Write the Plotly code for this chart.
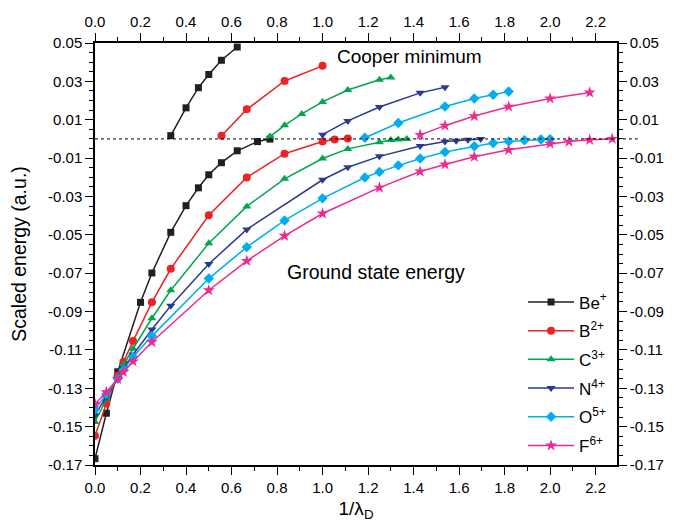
import plotly.graph_objects as go

# ---------------- data ----------------
species = ["Be<sup>+</sup>", "B<sup>2+</sup>", "C<sup>3+</sup>", "N<sup>4+</sup>", "O<sup>5+</sup>", "F<sup>6+</sup>"]
colors = ["#231F20", "#EC2227", "#00A650", "#2B3990", "#00AEEF", "#EC2A8F"]
symbols = ["square", "circle", "triangle-up", "triangle-down", "diamond", "star"]
marker_sizes = [7, 8, 8, 8, 8, 9]

# ground state energy branches
be_gx = [0, 0.05, 0.1, 0.2, 0.25, 0.333, 0.4, 0.4545, 0.5, 0.5556, 0.625, 0.714, 0.769]
be_gy = [-0.1667, -0.143, -0.1214, -0.0852, -0.0699, -0.0487, -0.0348, -0.0255, -0.0187, -0.0124, -0.0062, -0.0014, -0.0001]
b_gx = [0, 0.05, 0.1, 0.125, 0.167, 0.25, 0.333, 0.5, 0.667, 0.833, 1.0, 1.053, 1.111]
b_gy = [-0.1547, -0.138, -0.1235, -0.1163, -0.1054, -0.0852, -0.0677, -0.0398, -0.0201, -0.0077, -0.0014, -0.0003, 0.0002]
c_gx = [0, 0.05, 0.1, 0.125, 0.167, 0.25, 0.333, 0.5, 0.667, 0.833, 1.0, 1.111, 1.25, 1.3, 1.333, 1.37]
c_gy = [-0.1476, -0.1355, -0.124, -0.1177, -0.1094, -0.0935, -0.0789, -0.0544, -0.0352, -0.0208, -0.0102, -0.0052, -0.0017, -0.0006, -0.0003, -0.0001]
n_gx = [0, 0.05, 0.1, 0.125, 0.167, 0.25, 0.333, 0.5, 0.667, 1.0, 1.111, 1.25, 1.429, 1.538, 1.587, 1.639, 1.695]
n_gy = [-0.1440, -0.1345, -0.1245, -0.1195, -0.1125, -0.0994, -0.087, -0.0652, -0.0472, -0.0213, -0.0148, -0.0091, -0.0037, -0.0014, -0.0009, -0.0005, 0.0]
o_gx = [0, 0.05, 0.1, 0.125, 0.167, 0.25, 0.5, 0.667, 0.833, 1.0, 1.186, 1.25, 1.333, 1.429, 1.538, 1.667, 1.75, 1.818, 1.887, 1.96, 2.0]
o_gy = [-0.1411, -0.133, -0.125, -0.1205, -0.1137, -0.1028, -0.0728, -0.0564, -0.0425, -0.031, -0.0201, -0.0172, -0.0138, -0.0102, -0.0068, -0.0038, -0.0021, -0.0013, -0.0007, -0.0003, -0.0001]
f_gx = [0, 0.05, 0.1, 0.125, 0.167, 0.25, 0.5, 0.667, 0.833, 1.0, 1.25, 1.429, 1.538, 1.667, 1.818, 2.0, 2.083, 2.174, 2.273]
f_gy = [-0.1382, -0.132, -0.1252, -0.1215, -0.116, -0.1059, -0.0789, -0.0636, -0.0505, -0.0389, -0.0254, -0.017, -0.0133, -0.0093, -0.0057, -0.0025, -0.0014, -0.0005, 0.0]

# Cooper minimum branches
be_cx = [0.333, 0.4, 0.4545, 0.5, 0.5556, 0.625]
be_cy = [0.0017, 0.0162, 0.0267, 0.0336, 0.041, 0.0479]
b_cx = [0.556, 0.667, 0.833, 1.0]
b_cy = [0.0016, 0.0154, 0.0302, 0.0381]
c_cx = [0.769, 0.833, 0.909, 1.0, 1.111, 1.25, 1.3]
c_cy = [0.0012, 0.0071, 0.013, 0.0193, 0.0255, 0.0308, 0.032]
n_cx = [1.0, 1.111, 1.25, 1.429, 1.538]
n_cy = [0.0022, 0.0094, 0.0166, 0.024, 0.0269]
o_cx = [1.186, 1.333, 1.538, 1.667, 1.75, 1.818]
o_cy = [0.0006, 0.0083, 0.0169, 0.0211, 0.023, 0.0247]
f_cx = [1.429, 1.538, 1.667, 1.818, 2.0, 2.174]
f_cy = [0.0021, 0.0069, 0.0119, 0.0168, 0.0211, 0.0242]

ground = [(be_gx, be_gy), (b_gx, b_gy), (c_gx, c_gy), (n_gx, n_gy), (o_gx, o_gy), (f_gx, f_gy)]
cooper = [(be_cx, be_cy), (b_cx, b_cy), (c_cx, c_cy), (n_cx, n_cy), (o_cx, o_cy), (f_cx, f_cy)]

x_ticks = [0.0, 0.2, 0.4, 0.6, 0.8, 1.0, 1.2, 1.4, 1.6, 1.8, 2.0, 2.2]
x_ticktext = ["0.0", "0.2", "0.4", "0.6", "0.8", "1.0", "1.2", "1.4", "1.6", "1.8", "2.0", "2.2"]
y_ticks = [0.05, 0.03, 0.01, -0.01, -0.03, -0.05, -0.07, -0.09, -0.11, -0.13, -0.15, -0.17]
y_ticktext = ["0.05", "0.03", "0.01", "-0.01", "-0.03", "-0.05", "-0.07", "-0.09", "-0.11", "-0.13", "-0.15", "-0.17"]
x_minor = [round(0.1 * i, 2) for i in range(0, 23)]
y_minor = [round(-0.17 + 0.005 * i, 3) for i in range(0, 45)]

X_RANGE = [0, 2.294]
Y_RANGE = [-0.17, 0.05]

FONT = "Liberation Sans, Arial, sans-serif"

fig = go.Figure()
for i in range(6):
    gx, gy = ground[i]
    cx, cy = cooper[i]
    fig.add_trace(go.Scatter(
        x=gx, y=gy, mode="lines+markers", name=species[i], legendgroup=species[i],
        line=dict(color=colors[i], width=1.5),
        marker=dict(symbol=symbols[i], size=marker_sizes[i], color=colors[i])))
    fig.add_trace(go.Scatter(
        x=cx, y=cy, mode="lines+markers", name=species[i], legendgroup=species[i], showlegend=False,
        line=dict(color=colors[i], width=1.5),
        marker=dict(symbol=symbols[i], size=marker_sizes[i], color=colors[i])))

# dummy trace for the mirrored axes
fig.add_trace(go.Scatter(x=[], y=[], xaxis="x2", yaxis="y2", showlegend=False, hoverinfo="skip"))

axis_common = dict(showline=True, linecolor="black", linewidth=1.5, ticks="outside",
                   ticklen=8, tickwidth=1.2, tickcolor="black", showgrid=False, zeroline=False,
                   tickfont=dict(family=FONT, size=15, color="black"), mirror=False)
minor_common = dict(ticklen=4, ticks="outside", tickcolor="black", tickwidth=1.2)

fig.update_layout(
    width=688, height=528,
    margin=dict(l=95, r=71, t=43, b=59),
    paper_bgcolor="white", plot_bgcolor="white",
    font=dict(family=FONT, color="black"),
    xaxis=dict(range=X_RANGE, tickmode="array", tickvals=x_ticks, ticktext=x_ticktext,
               minor=dict(tickvals=x_minor, **minor_common),
               title=dict(text="1/λ<sub>D</sub>", font=dict(family=FONT, size=19), standoff=7),
               **axis_common),
    yaxis=dict(range=Y_RANGE, tickmode="array", tickvals=y_ticks, ticktext=y_ticktext,
               minor=dict(tickvals=y_minor, **minor_common),
               title=dict(text="Scaled energy (a.u.)", font=dict(family=FONT, size=19.5), standoff=16),
               **axis_common),
    xaxis2=dict(range=X_RANGE, overlaying="x", side="top", anchor="y", tickmode="array",
                tickvals=x_ticks, ticktext=x_ticktext,
                minor=dict(tickvals=x_minor, **minor_common),
                **axis_common),
    yaxis2=dict(range=Y_RANGE, overlaying="y", side="right", anchor="x", tickmode="array",
                tickvals=y_ticks, ticktext=y_ticktext,
                minor=dict(tickvals=y_minor, **minor_common),
                **axis_common),
    legend=dict(x=0.82, y=0.428, xanchor="left", yanchor="top", bgcolor="rgba(0,0,0,0)",
                font=dict(family=FONT, size=17, color="black"), tracegroupgap=3.6, itemwidth=46),
    showlegend=True,
)

fig.add_shape(type="line", xref="paper", yref="y", x0=0, x1=1.04, y0=0, y1=0,
              line=dict(color="black", width=1, dash="dot"))

fig.add_annotation(text="Cooper minimum", x=1.38, y=0.043, xref="x", yref="y",
                   showarrow=False, font=dict(family=FONT, size=19, color="black"))
fig.add_annotation(text="Ground state energy", x=1.235, y=-0.0695, xref="x", yref="y",
                   showarrow=False, font=dict(family=FONT, size=19.5, color="black"))

fig.write_html("out.html")
